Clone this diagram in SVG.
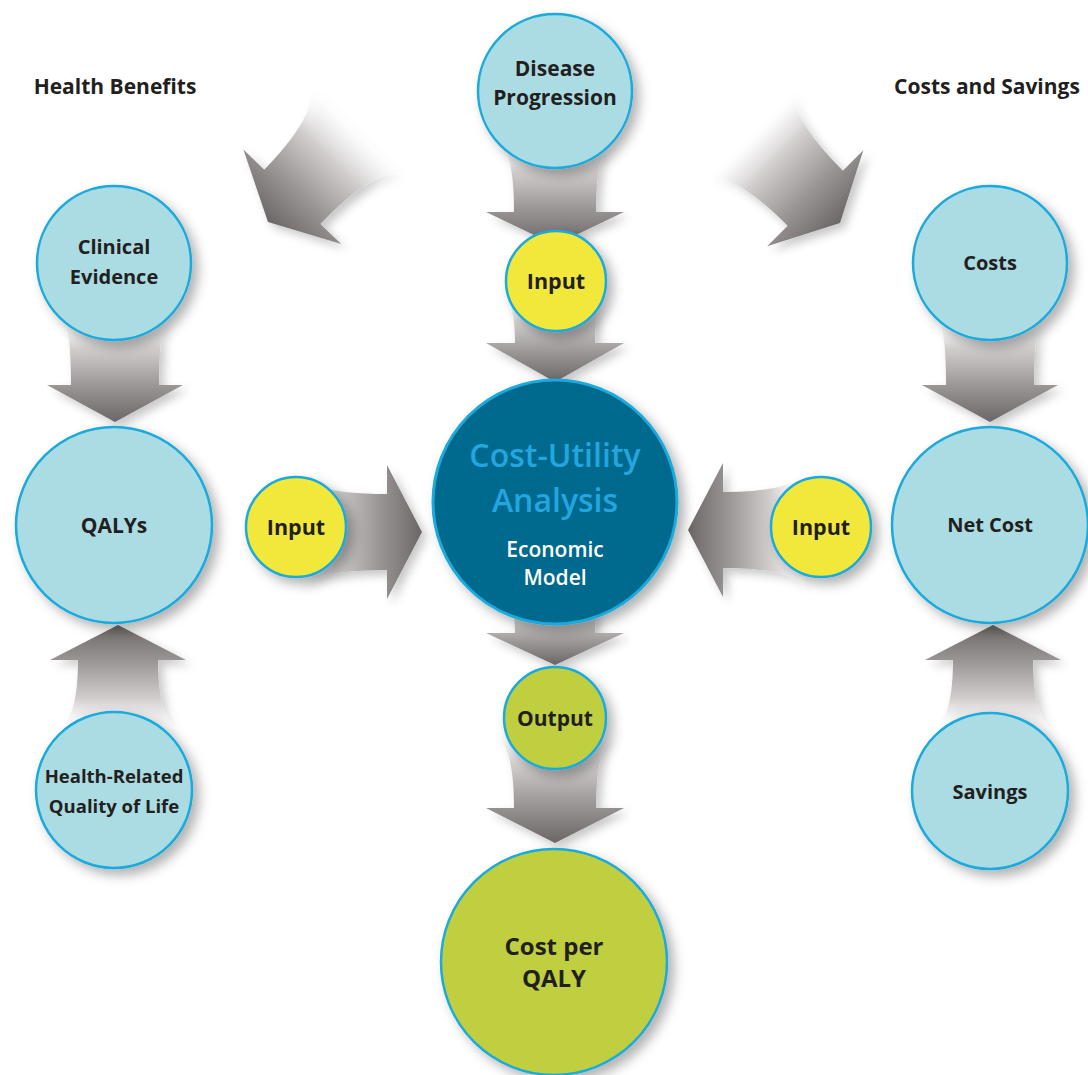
<svg xmlns="http://www.w3.org/2000/svg" width="1088" height="1075" viewBox="0 0 1088 1075">
<defs>
<style>
text{font-family:"Open Sans","Noto Sans",sans-serif;font-weight:700;text-anchor:middle;fill:#231f20}
.lb{fill:#acdce3;stroke:#1aa9dc;stroke-width:2.5}
.ye{fill:#f2e83b;stroke:#1aa9dc;stroke-width:2.5}
.gr{fill:#bfcf3f;stroke:#1aa9dc;stroke-width:2.5}
.cua{fill:#04698e;stroke:#1aa9dc;stroke-width:3}
.arr{fill:url(#ag)}
.t20{font-size:20px}
.t21{font-size:21px}
.in{font-size:21.5px}
</style>
<linearGradient id="ag" x1="0" y1="0" x2="0" y2="1">
<stop offset="0" stop-color="#ffffff" stop-opacity="0"/>
<stop offset="0.3" stop-color="#d2cece"/>
<stop offset="0.65" stop-color="#9c9797"/>
<stop offset="1" stop-color="#6c6666"/>
</linearGradient>
<filter id="sh" x="-30%" y="-30%" width="160%" height="160%">
<feDropShadow dx="6" dy="6" stdDeviation="6" flood-color="#000" flood-opacity="0.3"/>
</filter>
<filter id="ash" x="-30%" y="-30%" width="160%" height="160%">
<feDropShadow dx="5" dy="5" stdDeviation="5" flood-color="#000" flood-opacity="0.22"/>
</filter>
</defs>
<rect width="1088" height="1075" fill="#ffffff"/>

<g id="connectors">
<g filter="url(#ash)"><path class="arr" transform="translate(555,245)" d="M0 0 L69 -33 L41 -33 Q41 -105 63 -105 L-63 -105 Q-41 -105 -41 -33 L-69 -33 Z"/></g>
<g filter="url(#ash)"><path class="arr" transform="translate(555,382)" d="M0 0 L69 -39 L40 -39 Q40 -85 55 -85 L-55 -85 Q-40 -85 -40 -39 L-69 -39 Z"/></g>
<g filter="url(#ash)"><path class="arr" transform="translate(555,665)" d="M0 0 L69 -32 L40 -32 Q40 -65 52 -65 L-52 -65 Q-40 -65 -40 -32 L-69 -32 Z"/></g>
<g filter="url(#ash)"><path class="arr" transform="translate(555,843)" d="M0 0 L69 -35 L41 -35 Q41 -113 71 -113 L-71 -113 Q-41 -113 -41 -35 L-69 -35 Z"/></g>
<g filter="url(#ash)"><path class="arr" transform="translate(115,422)" d="M0 0 L68 -37 L44 -37 Q44 -105 56 -105 L-56 -105 Q-44 -105 -44 -37 L-68 -37 Z"/></g>
<g filter="url(#ash)"><path class="arr" transform="translate(118,625) rotate(180)" d="M0 0 L68 -35 L40 -35 Q40 -105 68 -105 L-68 -105 Q-40 -105 -40 -35 L-68 -35 Z"/></g>
<g filter="url(#ash)"><path class="arr" transform="translate(990,422)" d="M0 0 L68 -37 L44 -37 Q44 -105 56 -105 L-56 -105 Q-44 -105 -44 -37 L-68 -37 Z"/></g>
<g filter="url(#ash)"><path class="arr" transform="translate(993,625) rotate(180)" d="M0 0 L68 -35 L40 -35 Q40 -105 68 -105 L-68 -105 Q-40 -105 -40 -35 L-68 -35 Z"/></g>
<g filter="url(#ash)"><path class="arr" transform="translate(422,532) rotate(-90)" d="M0 0 L67 -35 L38 -35 Q38 -125 66 -125 L-66 -125 Q-38 -125 -38 -35 L-67 -35 Z"/></g>
<g filter="url(#ash)"><path class="arr" transform="translate(688,530) rotate(90)" d="M0 0 L67 -35 L38 -35 Q38 -118 66 -118 L-66 -118 Q-38 -118 -38 -35 L-67 -35 Z"/></g>
<g filter="url(#ash)"><path class="arr" transform="translate(268,222) rotate(44)" d="M0 0 L68 -35 L39 -35 Q39 -128 74 -128 L-74 -128 Q-39 -128 -39 -35 L-68 -35 Z"/></g>
<g filter="url(#ash)"><path class="arr" transform="translate(840,223) rotate(-45)" d="M0 0 L68 -35 L39 -35 Q39 -128 74 -128 L-74 -128 Q-39 -128 -39 -35 L-68 -35 Z"/></g>
</g>

<g id="label-health-benefits"><text x="115" y="94" style="font-size:21px">Health Benefits</text></g>
<g id="label-costs-savings"><text x="987" y="94" style="font-size:21px">Costs and Savings</text></g>

<g id="node-disease-progression">
<circle class="lb" cx="555" cy="91" r="77" filter="url(#sh)"/>
<text class="t21" x="555" y="76">Disease</text>
<text class="t21" x="555" y="105">Progression</text>
</g>
<g id="node-input-top">
<circle class="ye" cx="556" cy="281" r="50" filter="url(#sh)"/>
<text class="in" x="556" y="289">Input</text>
</g>
<g id="node-cua">
<circle class="cua" cx="555" cy="502" r="122" filter="url(#sh)"/>
<text x="555" y="467" style="font-size:32px;font-weight:600;fill:#22a6df">Cost-Utility</text>
<text x="555" y="512" style="font-size:32px;font-weight:600;fill:#22a6df">Analysis</text>
<text x="555" y="557" style="font-size:21px;font-weight:600;fill:#ffffff">Economic</text>
<text x="555" y="585" style="font-size:21px;font-weight:600;fill:#ffffff">Model</text>
</g>
<g id="node-output">
<circle class="gr" cx="555" cy="718" r="51" filter="url(#sh)"/>
<text class="t21" x="555" y="726">Output</text>
</g>
<g id="node-cost-per-qaly">
<circle class="gr" cx="554" cy="962" r="113" filter="url(#sh)"/>
<text x="554" y="955" style="font-size:24px">Cost per</text>
<text x="554" y="987" style="font-size:24px">QALY</text>
</g>
<g id="node-clinical-evidence">
<circle class="lb" cx="114" cy="263" r="77" filter="url(#sh)"/>
<text class="t20" x="114" y="254">Clinical</text>
<text class="t20" x="114" y="284">Evidence</text>
</g>
<g id="node-qalys">
<circle class="lb" cx="114" cy="525" r="98" filter="url(#sh)"/>
<text class="t21" x="114" y="533">QALYs</text>
</g>
<g id="node-hrqol">
<circle class="lb" cx="114" cy="790" r="78" filter="url(#sh)"/>
<text x="114" y="783" style="font-size:18.5px">Health-Related</text>
<text x="114" y="813" style="font-size:18.5px">Quality of Life</text>
</g>
<g id="node-input-left">
<circle class="ye" cx="296" cy="527" r="50" filter="url(#sh)"/>
<text class="in" x="296" y="535">Input</text>
</g>
<g id="node-costs">
<circle class="lb" cx="990" cy="263" r="77" filter="url(#sh)"/>
<text class="t20" x="990" y="270">Costs</text>
</g>
<g id="node-net-cost">
<circle class="lb" cx="990" cy="525" r="98" filter="url(#sh)"/>
<text class="t20" x="990" y="532">Net Cost</text>
</g>
<g id="node-savings">
<circle class="lb" cx="990" cy="791" r="78" filter="url(#sh)"/>
<text class="t20" x="990" y="799">Savings</text>
</g>
<g id="node-input-right">
<circle class="ye" cx="821" cy="527" r="50" filter="url(#sh)"/>
<text class="in" x="821" y="535">Input</text>
</g>
</svg>
